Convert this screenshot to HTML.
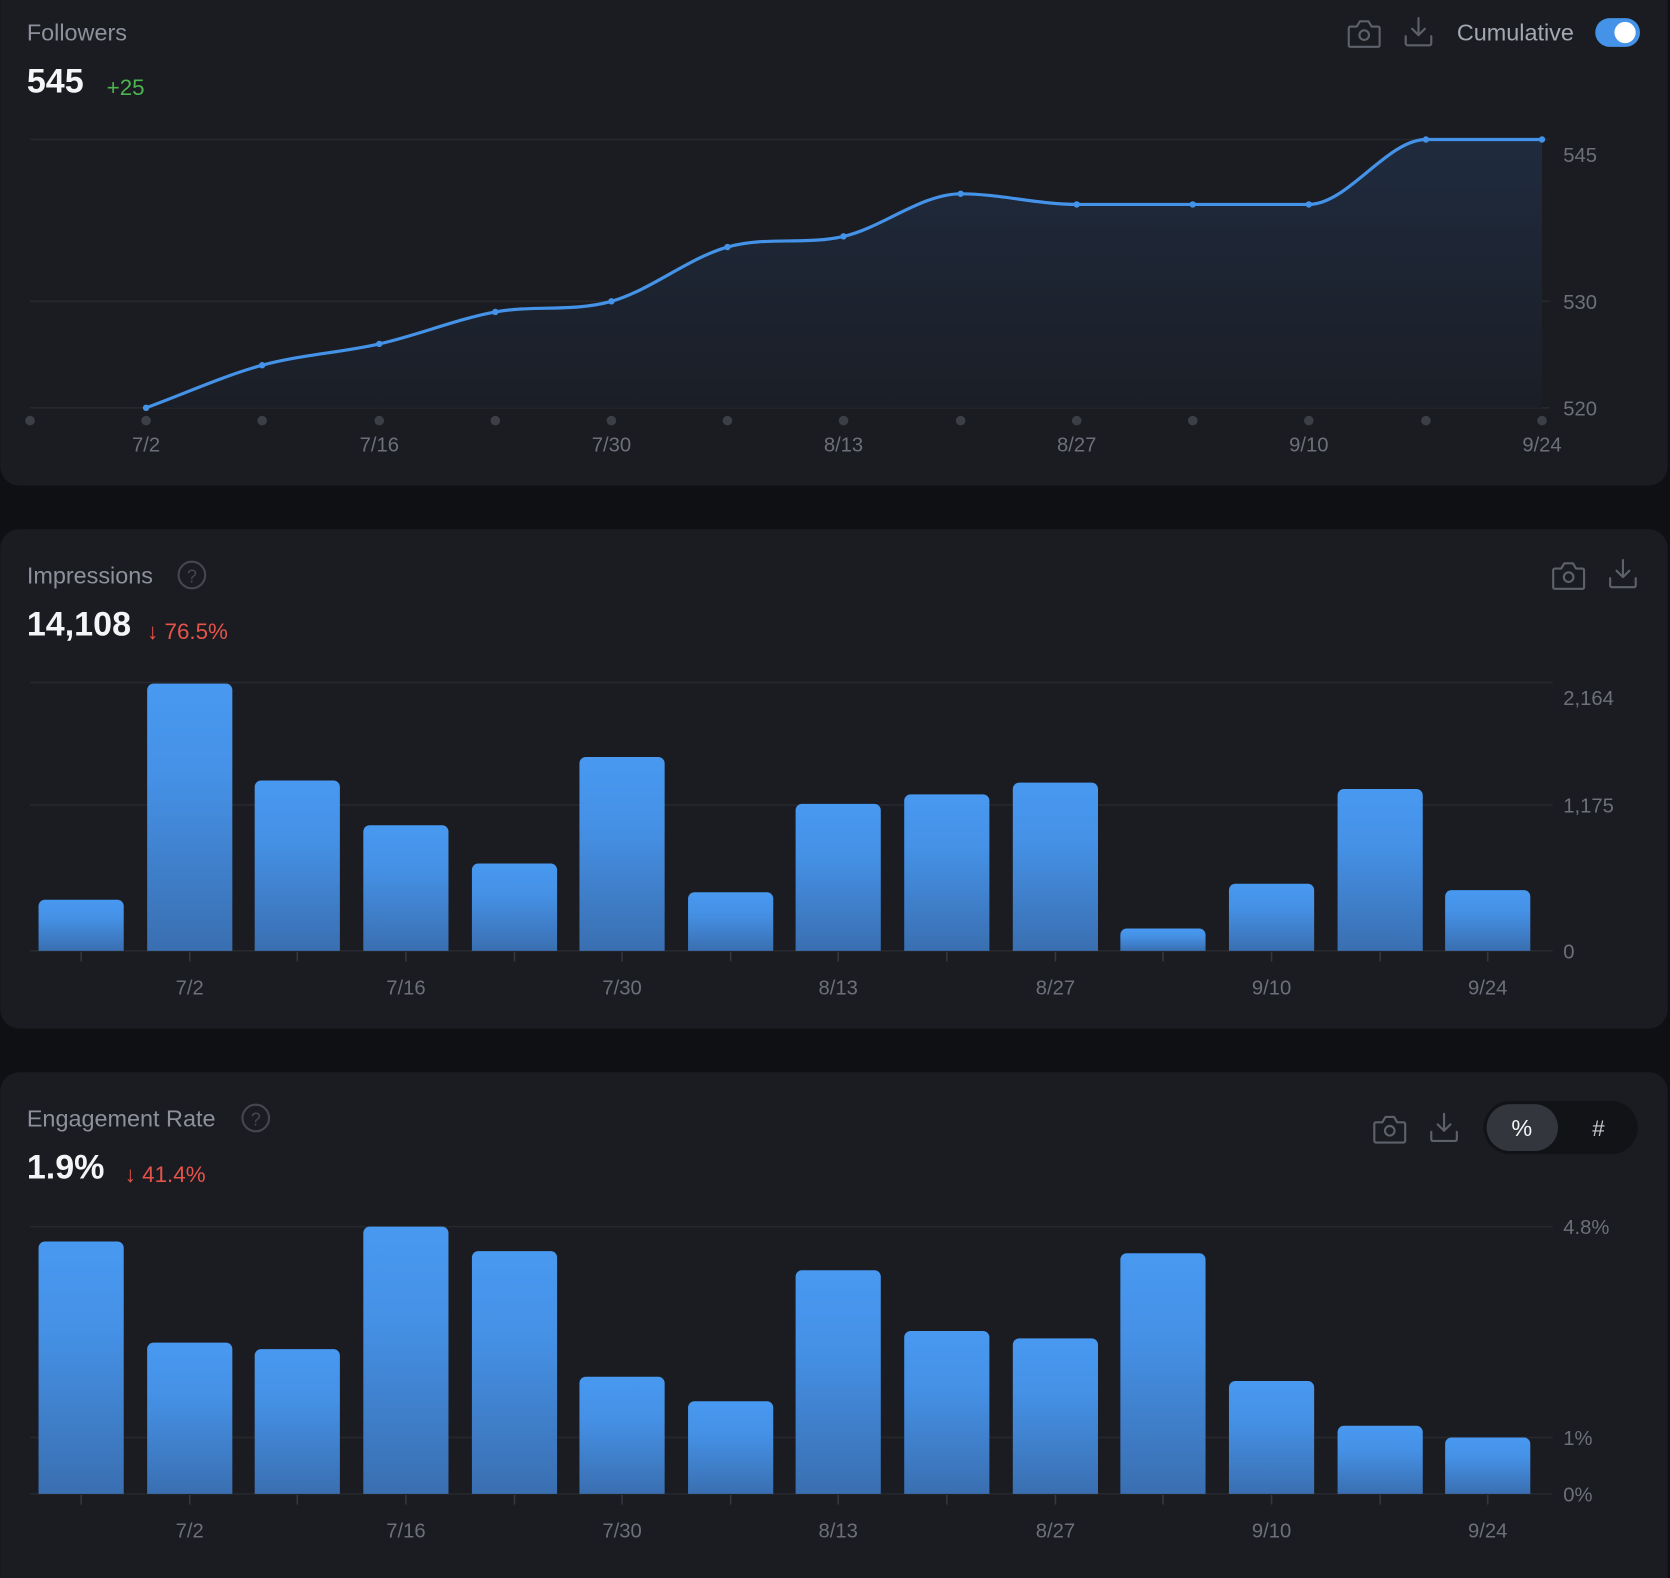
<!DOCTYPE html>
<html><head><meta charset="utf-8"><style>
html,body{margin:0;padding:0;background:#0f1014;}
svg{display:block;font-family:"Liberation Sans",sans-serif;}
</style></head><body>
<svg width="1670" height="1578" viewBox="0 0 1568 1482" xmlns="http://www.w3.org/2000/svg">
<defs>
<linearGradient id="bar" x1="0" y1="0" x2="0" y2="1">
<stop offset="0" stop-color="#4899f1"/><stop offset="0.35" stop-color="#4591e6"/><stop offset="1" stop-color="#3a6fb1"/>
</linearGradient>
<linearGradient id="area" x1="0" y1="0" x2="0" y2="1">
<stop offset="0" stop-color="#1f2b3e"/><stop offset="1" stop-color="#1b1e26"/>
</linearGradient>
<g id="cam" fill="none" stroke="#5d6169" stroke-width="2" stroke-linejoin="round">
<path d="M-13,-7 h6 l3,-5 h8 l3,5 h6 a1.5,1.5 0 0 1 1.5,1.5 v16 a1.5,1.5 0 0 1 -1.5,1.5 h-26 a1.5,1.5 0 0 1 -1.5,-1.5 v-16 a1.5,1.5 0 0 1 1.5,-1.5z"/>
<circle cx="0" cy="1" r="4.5"/>
</g>
<g id="dl" fill="none" stroke="#5d6169" stroke-width="2" stroke-linecap="round" stroke-linejoin="round">
<path d="M0,-13 v16 M-6,-3 l6,6 l6,-6 M-12,4 v7 a1.5,1.5 0 0 0 1.5,1.5 h21 a1.5,1.5 0 0 0 1.5,-1.5 v-7"/>
</g>
<g id="q" fill="none" stroke="#44474e" stroke-width="2">
<circle r="12.5"/>
</g>
</defs>
<rect width="1568" height="1482" fill="#0f1014"/>
<!-- Card 1 -->
<rect x="0" y="-20" width="1566" height="476" rx="18" fill="#1b1c21"/>
<text x="25" y="38" font-size="22" fill="#8c919c">Followers</text>
<text x="25" y="87" font-size="32" font-weight="bold" fill="#f4f5f7">545</text>
<text x="100" y="89" font-size="21" fill="#4cb34f">+25</text>
<use href="#cam" x="1281" y="32"/>
<use href="#dl" x="1332" y="30"/>
<text x="1368" y="38" font-size="22" fill="#a3a8b3">Cumulative</text>
<rect x="1498" y="17" width="42" height="27" rx="13.5" fill="#4493e8"/>
<circle cx="1526" cy="30.5" r="10" fill="#fff"/>
<g stroke="#26282e" stroke-width="1.5">
<line x1="28" y1="131" x2="1455" y2="131"/><line x1="28" y1="283" x2="1455" y2="283"/><line x1="28" y1="383" x2="1455" y2="383"/>
</g>
<path d="M137,383 C173.4,369.7 209.6,353 246,343 C282.4,333 319.6,331.3 356,323 C392.4,314.7 428.6,299.7 465,293 C501.4,286.3 537.6,293.2 574,283 C610.4,272.8 646.6,242.2 683,232 C719.4,221.8 755.6,230.3 792,222 C828.4,213.7 865.6,182 902,182 C938.4,182 974.6,192 1011,192 L1229,192 C1265.4,192 1302.6,131 1339,131 L1448,131 L1448,383 Z" fill="url(#area)"/>
<path d="M137,383 C173.4,369.7 209.6,353 246,343 C282.4,333 319.6,331.3 356,323 C392.4,314.7 428.6,299.7 465,293 C501.4,286.3 537.6,293.2 574,283 C610.4,272.8 646.6,242.2 683,232 C719.4,221.8 755.6,230.3 792,222 C828.4,213.7 865.6,182 902,182 C938.4,182 974.6,192 1011,192 L1229,192 C1265.4,192 1302.6,131 1339,131 L1448,131" fill="none" stroke="#4493e8" stroke-width="3"/>
<g fill="#4493e8">
<circle cx="137" cy="383" r="3"/><circle cx="246" cy="343" r="3"/><circle cx="356" cy="323" r="3"/><circle cx="465" cy="293" r="3"/><circle cx="574" cy="283" r="3"/><circle cx="683" cy="232" r="3"/><circle cx="792" cy="222" r="3"/><circle cx="902" cy="182" r="3"/><circle cx="1011" cy="192" r="3"/><circle cx="1120" cy="192" r="3"/><circle cx="1229" cy="192" r="3"/><circle cx="1339" cy="131" r="3"/><circle cx="1448" cy="131" r="3"/>
</g>
<g fill="#3c3f46">
<circle cx="28" cy="395" r="4.5"/><circle cx="137" cy="395" r="4.5"/><circle cx="246" cy="395" r="4.5"/><circle cx="356" cy="395" r="4.5"/><circle cx="465" cy="395" r="4.5"/><circle cx="574" cy="395" r="4.5"/><circle cx="683" cy="395" r="4.5"/><circle cx="792" cy="395" r="4.5"/><circle cx="902" cy="395" r="4.5"/><circle cx="1011" cy="395" r="4.5"/><circle cx="1120" cy="395" r="4.5"/><circle cx="1229" cy="395" r="4.5"/><circle cx="1339" cy="395" r="4.5"/><circle cx="1448" cy="395" r="4.5"/>
</g>
<g font-size="19" fill="#6c707a">
<text x="1468" y="152">545</text><text x="1468" y="290">530</text><text x="1468" y="390">520</text>
</g>
<g font-size="19" fill="#6c707a" text-anchor="middle">
<text x="137" y="424">7/2</text><text x="356" y="424">7/16</text><text x="574" y="424">7/30</text><text x="792" y="424">8/13</text><text x="1011" y="424">8/27</text><text x="1229" y="424">9/10</text><text x="1448" y="424">9/24</text>
</g>
<!-- Card 2 -->
<rect x="0" y="497" width="1566" height="469" rx="18" fill="#1b1c21"/>
<text x="25" y="548" font-size="22" fill="#8c919c">Impressions</text>
<use href="#q" x="180" y="540"/><text x="180" y="547" font-size="17" fill="#44474e" text-anchor="middle">?</text>
<text x="25" y="597" font-size="32" font-weight="bold" fill="#f4f5f7">14,108</text>
<text x="138" y="600" font-size="21" fill="#e5534b">↓ 76.5%</text>
<use href="#cam" x="1473" y="541"/>
<use href="#dl" x="1524" y="539"/>
<g stroke="#26282e" stroke-width="1.5">
<line x1="28" y1="641" x2="1458" y2="641"/><line x1="28" y1="756" x2="1458" y2="756"/><line x1="28" y1="893" x2="1458" y2="893"/>
</g>
<g fill="url(#bar)">
<path d="M36,893 V851 a6,6 0 0 1 6,-6 h68 a6,6 0 0 1 6,6 V893Z"/>
<path d="M138,893 V648 a6,6 0 0 1 6,-6 h68 a6,6 0 0 1 6,6 V893Z"/>
<path d="M239,893 V739 a6,6 0 0 1 6,-6 h68 a6,6 0 0 1 6,6 V893Z"/>
<path d="M341,893 V781 a6,6 0 0 1 6,-6 h68 a6,6 0 0 1 6,6 V893Z"/>
<path d="M443,893 V817 a6,6 0 0 1 6,-6 h68 a6,6 0 0 1 6,6 V893Z"/>
<path d="M544,893 V717 a6,6 0 0 1 6,-6 h68 a6,6 0 0 1 6,6 V893Z"/>
<path d="M646,893 V844 a6,6 0 0 1 6,-6 h68 a6,6 0 0 1 6,6 V893Z"/>
<path d="M747,893 V761 a6,6 0 0 1 6,-6 h68 a6,6 0 0 1 6,6 V893Z"/>
<path d="M849,893 V752 a6,6 0 0 1 6,-6 h68 a6,6 0 0 1 6,6 V893Z"/>
<path d="M951,893 V741 a6,6 0 0 1 6,-6 h68 a6,6 0 0 1 6,6 V893Z"/>
<path d="M1052,893 V878 a6,6 0 0 1 6,-6 h68 a6,6 0 0 1 6,6 V893Z"/>
<path d="M1154,893 V836 a6,6 0 0 1 6,-6 h68 a6,6 0 0 1 6,6 V893Z"/>
<path d="M1256,893 V747 a6,6 0 0 1 6,-6 h68 a6,6 0 0 1 6,6 V893Z"/>
<path d="M1357,893 V842 a6,6 0 0 1 6,-6 h68 a6,6 0 0 1 6,6 V893Z"/>
</g>
<g stroke="#34363c" stroke-width="1.5">
<line x1="76" y1="894" x2="76" y2="903"/><line x1="178" y1="894" x2="178" y2="903"/><line x1="279" y1="894" x2="279" y2="903"/><line x1="381" y1="894" x2="381" y2="903"/><line x1="483" y1="894" x2="483" y2="903"/><line x1="584" y1="894" x2="584" y2="903"/><line x1="686" y1="894" x2="686" y2="903"/><line x1="787" y1="894" x2="787" y2="903"/><line x1="889" y1="894" x2="889" y2="903"/><line x1="991" y1="894" x2="991" y2="903"/><line x1="1092" y1="894" x2="1092" y2="903"/><line x1="1194" y1="894" x2="1194" y2="903"/><line x1="1296" y1="894" x2="1296" y2="903"/><line x1="1397" y1="894" x2="1397" y2="903"/>
</g>
<g font-size="19" fill="#6c707a">
<text x="1468" y="662">2,164</text><text x="1468" y="763">1,175</text><text x="1468" y="900">0</text>
</g>
<g font-size="19" fill="#6c707a" text-anchor="middle">
<text x="178" y="934">7/2</text><text x="381" y="934">7/16</text><text x="584" y="934">7/30</text><text x="787" y="934">8/13</text><text x="991" y="934">8/27</text><text x="1194" y="934">9/10</text><text x="1397" y="934">9/24</text>
</g>
<!-- Card 3 -->
<rect x="0" y="1007" width="1566" height="495" rx="18" fill="#1b1c21"/>
<text x="25" y="1058" font-size="22" fill="#8c919c">Engagement Rate</text>
<use href="#q" x="240" y="1050"/><text x="240" y="1057" font-size="17" fill="#44474e" text-anchor="middle">?</text>
<text x="25" y="1107" font-size="32" font-weight="bold" fill="#f4f5f7">1.9%</text>
<text x="117" y="1110" font-size="21" fill="#e5534b">↓ 41.4%</text>
<use href="#cam" x="1305" y="1061"/>
<use href="#dl" x="1356" y="1059"/>
<rect x="1393" y="1034" width="145" height="50" rx="25" fill="#121317"/>
<rect x="1396" y="1037" width="67" height="44" rx="22" fill="#34363d"/>
<text x="1429" y="1067" font-size="22" fill="#f4f5f7" text-anchor="middle">%</text>
<text x="1501" y="1067" font-size="21" fill="#c8cbd2" text-anchor="middle">#</text>
<g stroke="#26282e" stroke-width="1.5">
<line x1="28" y1="1152" x2="1458" y2="1152"/><line x1="28" y1="1350" x2="1458" y2="1350"/><line x1="28" y1="1403" x2="1458" y2="1403"/>
</g>
<g fill="url(#bar)">
<path d="M36,1403 V1172 a6,6 0 0 1 6,-6 h68 a6,6 0 0 1 6,6 V1403Z"/>
<path d="M138,1403 V1267 a6,6 0 0 1 6,-6 h68 a6,6 0 0 1 6,6 V1403Z"/>
<path d="M239,1403 V1273 a6,6 0 0 1 6,-6 h68 a6,6 0 0 1 6,6 V1403Z"/>
<path d="M341,1403 V1158 a6,6 0 0 1 6,-6 h68 a6,6 0 0 1 6,6 V1403Z"/>
<path d="M443,1403 V1181 a6,6 0 0 1 6,-6 h68 a6,6 0 0 1 6,6 V1403Z"/>
<path d="M544,1403 V1299 a6,6 0 0 1 6,-6 h68 a6,6 0 0 1 6,6 V1403Z"/>
<path d="M646,1403 V1322 a6,6 0 0 1 6,-6 h68 a6,6 0 0 1 6,6 V1403Z"/>
<path d="M747,1403 V1199 a6,6 0 0 1 6,-6 h68 a6,6 0 0 1 6,6 V1403Z"/>
<path d="M849,1403 V1256 a6,6 0 0 1 6,-6 h68 a6,6 0 0 1 6,6 V1403Z"/>
<path d="M951,1403 V1263 a6,6 0 0 1 6,-6 h68 a6,6 0 0 1 6,6 V1403Z"/>
<path d="M1052,1403 V1183 a6,6 0 0 1 6,-6 h68 a6,6 0 0 1 6,6 V1403Z"/>
<path d="M1154,1403 V1303 a6,6 0 0 1 6,-6 h68 a6,6 0 0 1 6,6 V1403Z"/>
<path d="M1256,1403 V1345 a6,6 0 0 1 6,-6 h68 a6,6 0 0 1 6,6 V1403Z"/>
<path d="M1357,1403 V1356 a6,6 0 0 1 6,-6 h68 a6,6 0 0 1 6,6 V1403Z"/>
</g>
<g stroke="#34363c" stroke-width="1.5">
<line x1="76" y1="1404" x2="76" y2="1413"/><line x1="178" y1="1404" x2="178" y2="1413"/><line x1="279" y1="1404" x2="279" y2="1413"/><line x1="381" y1="1404" x2="381" y2="1413"/><line x1="483" y1="1404" x2="483" y2="1413"/><line x1="584" y1="1404" x2="584" y2="1413"/><line x1="686" y1="1404" x2="686" y2="1413"/><line x1="787" y1="1404" x2="787" y2="1413"/><line x1="889" y1="1404" x2="889" y2="1413"/><line x1="991" y1="1404" x2="991" y2="1413"/><line x1="1092" y1="1404" x2="1092" y2="1413"/><line x1="1194" y1="1404" x2="1194" y2="1413"/><line x1="1296" y1="1404" x2="1296" y2="1413"/><line x1="1397" y1="1404" x2="1397" y2="1413"/>
</g>
<g font-size="19" fill="#6c707a">
<text x="1468" y="1159">4.8%</text><text x="1468" y="1357">1%</text><text x="1468" y="1410">0%</text>
</g>
<g font-size="19" fill="#6c707a" text-anchor="middle">
<text x="178" y="1444">7/2</text><text x="381" y="1444">7/16</text><text x="584" y="1444">7/30</text><text x="787" y="1444">8/13</text><text x="991" y="1444">8/27</text><text x="1194" y="1444">9/10</text><text x="1397" y="1444">9/24</text>
</g>
</svg>
</body></html>
